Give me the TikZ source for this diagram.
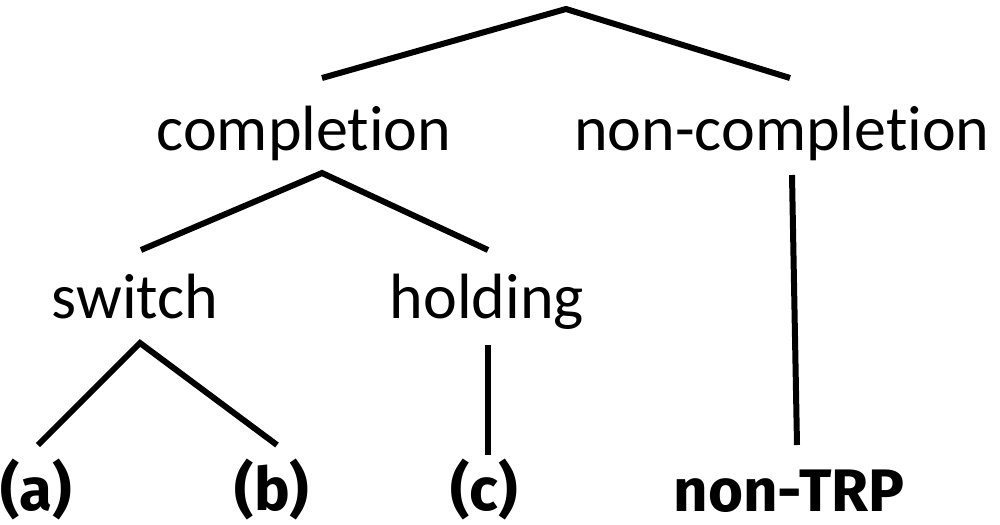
\documentclass[tikz,border=0pt]{standalone}
\usepackage{fontspec}
\setmainfont[Ligatures=NoCommon]{Carlito}
\newfontfamily\leaffont{Fira Sans}
\usepackage{tikz}

\tikzset{
  branch/.style={line width=4.5pt, line join=miter},
  catname/.style={anchor=base, inner sep=0.75pt, font=\fontsize{48}{56}\selectfont},
  leafname/.style={anchor=base, inner sep=0.75pt, font=\leaffont\bfseries\fontsize{45}{54}\selectfont}
}

\begin{document}
\begin{tikzpicture}[x=0.75pt,y=0.75pt,yscale=-1,xscale=1]
        \useasboundingbox (0,0) rectangle (1000,525);

        % Text Node
        \node [catname] (comp) at (304,150) {completion};
        % Text Node
        \node [catname] (ncomp) at (782,150) {non-completion};
        % Text Node
        \node [catname] (switch) at (135,318) {switch};
        % Text Node
        \node [catname] (hold) at (487,318) {holding};
        % Text Node
        \node [leafname] (leafa) at (36,510) {(a)};
        % Text Node
        \node [leafname] (leafb) at (272,510) {(b)};
        % Text Node
        \node [leafname] (leafc) at (484,510) {(c)};
        % Text Node
        \node [leafname] (nontrp) at (789,511) {non-TRP};

        % branch ends
        \coordinate (top) at (566,9);
        \coordinate (compUp) at (322,78);
        \coordinate (ncompUp) at (790,78);
        \coordinate (compDown) at (322,173);
        \coordinate (switchUp) at (141,250);
        \coordinate (holdUp) at (488,250);
        \coordinate (ncompDown) at (792,175);
        \coordinate (trpUp) at (797,445);
        \coordinate (switchDown) at (140,343);
        \coordinate (aUp) at (38,445);
        \coordinate (bUp) at (277,445);
        \coordinate (holdDown) at (488,345);
        \coordinate (cUp) at (488,455);

        %Straight Lines
        \draw [branch] (compUp) -- (top) -- (ncompUp) ;
        %Straight Lines
        \draw [branch] (switchUp) -- (compDown) -- (holdUp) ;
        %Straight Lines
        \draw [branch] (ncompDown) -- (trpUp) ;
        %Straight Lines
        \draw [branch] (aUp) -- (switchDown) -- (bUp) ;
        %Straight Lines
        \draw [branch] (holdDown) -- (cUp) ;

    \end{tikzpicture}
\end{document}
